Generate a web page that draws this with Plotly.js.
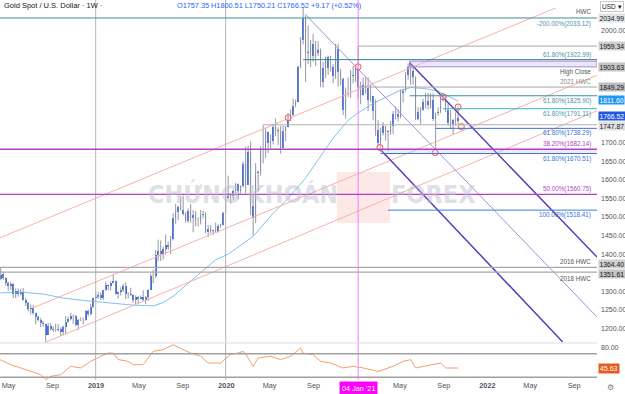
<!DOCTYPE html>
<html><head><meta charset="utf-8">
<script src="https://cdn.plot.ly/plotly-3.0.1.min.js"></script>
<style>html,body{margin:0;padding:0;background:#fff}#chart{width:625px;height:394px}</style>
</head><body><div id="chart"></div>
<script>
// ---------- DATA ----------
const weekStart = '2018-04-09';   // first weekly candle, one candle per week after it
const open = [1332,1346,1336,1323,1315,1319,1292,1302,1294,1298,1278,1270,1252,1256,1241,1231,1223,1214,1212,1184,1206,1200,1196,1195,1200,1192,1203,1218,1227,1235,1233,1209,1222,1223,1222,1248,1238,1257,1281,
1286,1290,1282,1303,1318,1314,1322,1329,1294,1298,1303,1314,1292,1292,1290,1276,1286,1280,1285,1277,1284,1305,1341,1341,1399,1409,1400,1415,1426,1419,1440,1497,1514,1527,1520,1507,1489,1517,1497,1505,1489,1490,1505,1509,1459,1468,1462,1464,1460,1476,1478,1510,
1552,1557,1557,1571,1589,1570,1584,1643,1585,1674,1530,1498,1617,1620,1684,1683,1729,1700,1703,1743,1735,1730,1685,1730,1743,1771,1775,1799,1810,1902,1975,2035,1944,1940,1964,1934,1941,1950,1862,1900,1930,1900,1902,1879,1951,1889,1871,1788,1839,1839,1881,1878,
1898,1850,1828,1856,1848,1814,1824,1784,1734,1700,1727,1745,1732,1728,1744,1777,1777,1768,1832,1838,1881,1903,1892,1877,1764,1781,1787,1808,1812,1802,1814,1763,1780,1781,1818,1827,1787,1754,1750,1761,1757.35];
const high = [1365,1353,1338,1326,1326,1322,1308,1308,1307,1309,1282,1272,1265,1263,1243,1235,1228,1221,1213,1215,1215,1206,1214,1212,1204,1208,1233,1233,1243,1238,1237,1226,1230,1229,1250,1251,1267,1283,1299,
1298,1297,1304,1326,1319,1327,1346,1330,1299,1311,1320,1324,1298,1310,1292,1289,1288,1289,1303,1287,1306,1348,1358,1411,1439,1437,1420,1453,1434,1449,1510,1535,1531,1555,1557,1513,1523,1535,1519,1516,1499,1519,1517,1514,1478,1478,1466,1485,1480,1482,1514,1553,
1611,1563,1575,1592,1590,1585,1649,1689,1692,1703,1560,1645,1625,1690,1747,1739,1730,1722,1750,1765,1741,1745,1745,1745,1779,1789,1818,1815,1907,1984,2075,2040,2015,1976,1992,1973,1973,1953,1917,1931,1933,1933,1911,1965,1966,1898,1875,1848,1875,1896,1906,1900,
1959,1864,1875,1876,1875,1855,1826,1816,1760,1740,1755,1745,1734,1758,1785,1797,1790,1843,1845,1890,1913,1916,1903,1878,1795,1795,1818,1834,1833,1832,1832,1780,1795,1823,1834,1827,1808,1787,1764,1781,1800.51];
const low = [1331,1331,1315,1302,1304,1282,1282,1286,1289,1275,1261,1246,1238,1237,1211,1219,1204,1205,1160,1183,1195,1191,1191,1193,1180,1182,1185,1217,1222,1212,1206,1196,1220,1212,1221,1233,1236,1256,1276,
1280,1277,1276,1302,1303,1302,1321,1291,1281,1289,1298,1280,1281,1288,1270,1266,1266,1278,1274,1266,1274,1305,1322,1336,1381,1382,1385,1400,1411,1400,1437,1481,1492,1518,1504,1485,1484,1485,1459,1475,1474,1480,1496,1456,1446,1456,1452,1459,1458,1471,1477,1508,
1549,1536,1546,1563,1547,1563,1579,1563,1586,1505,1451,1484,1568,1611,1644,1659,1672,1684,1695,1717,1693,1670,1685,1704,1741,1757,1772,1795,1810,1900,1964,1863,1911,1903,1917,1906,1933,1849,1848,1873,1882,1891,1860,1871,1850,1854,1774,1764,1823,1821,1859,1863,
1817,1803,1826,1831,1785,1810,1760,1717,1687,1676,1719,1705,1677,1721,1723,1763,1757,1765,1808,1837,1869,1855,1856,1761,1760,1750,1786,1792,1789,1791,1758,1682,1772,1779,1810,1782,1745,1737,1721,1746,1750.21];
const close = [1345,1336,1323,1315,1320,1292,1301,1294,1298,1278,1270,1252,1256,1241,1231,1223,1214,1212,1184,1206,1200,1196,1195,1200,1192,1203,1218,1227,1235,1233,1209,1222,1223,1222,1248,1238,1257,1281,1286,
1290,1282,1303,1318,1314,1322,1329,1294,1298,1303,1314,1292,1292,1290,1276,1286,1280,1285,1277,1284,1305,1341,1341,1399,1409,1400,1415,1426,1419,1440,1497,1514,1527,1520,1507,1489,1517,1497,1505,1489,1490,1505,1509,1459,1468,1462,1464,1460,1476,1478,1510,1552,
1557,1557,1571,1589,1570,1584,1643,1585,1674,1530,1498,1617,1620,1684,1683,1729,1700,1703,1743,1735,1730,1685,1730,1743,1771,1775,1799,1810,1902,1975,2035,1944,1940,1964,1934,1941,1950,1862,1900,1930,1900,1902,1879,1951,1889,1871,1788,1839,1839,1881,1878,1898,
1849.29,1828,1856,1848,1814,1824,1784,1734,1700,1727,1745,1732,1728,1744,1777,1777,1768,1832,1838,1881,1903.63,1892,1877,1764,1781,1787,1808,1812,1802,1814,1763,1780,1781,1818,1827,1787,1754,1750,1761,1757.35,1766.52];

// moving average
const maDates = ['2018-04-07','2018-06-04','2018-08-06','2018-10-01','2018-12-03','2019-01-14','2019-03-04','2019-04-15','2019-06-10','2019-07-08','2019-08-05','2019-09-02','2019-10-21','2019-12-02','2020-01-06','2020-02-03','2020-03-16','2020-05-11','2020-06-22','2020-08-10','2020-09-21','2020-10-26','2020-12-07','2021-01-04','2021-02-15','2021-03-22','2021-04-26','2021-05-31','2021-07-12','2021-08-16','2021-09-13','2021-10-11'];
const maValues = [1296,1298,1293,1282,1275,1271,1266,1263,1261,1270,1287,1310,1352,1385,1400,1420,1448,1510,1550,1605,1663,1712,1760,1780,1805,1822,1838,1848,1845,1838,1825,1811.60];

// RSI panel
const rsiDates = ['2018-04-07','2018-05-07','2018-06-04','2018-07-02','2018-07-30','2018-08-13','2018-08-27','2018-09-24','2018-10-22','2018-11-19','2018-12-17','2019-01-14','2019-02-04','2019-02-18','2019-03-04','2019-04-01','2019-04-15','2019-05-13','2019-06-10','2019-07-08','2019-08-05','2019-09-02','2019-09-23','2019-10-21','2019-11-11','2019-12-16','2020-01-13','2020-02-03','2020-02-17','2020-02-24','2020-03-16','2020-03-30','2020-05-04','2020-06-01','2020-06-29','2020-07-27','2020-08-03','2020-08-31','2020-09-21','2020-10-19','2020-11-23','2020-12-21','2021-01-18','2021-03-01','2021-03-15','2021-04-12','2021-05-10','2021-05-31','2021-06-14','2021-07-26','2021-08-23','2021-09-06','2021-09-27','2021-10-11'];
const rsiValues = [59.8,51.4,45.8,40,34.5,26,31.7,34.4,48.6,45.8,57,65.6,71,71,60,57,51.4,51.4,74,76.8,85,76.8,71,65.6,54.2,54.2,69,71,74,69.5,48.6,62.7,65.6,59.8,65.6,79.7,71,68.3,57,54.2,45.8,48.6,45.8,40,42.9,48.6,57,59.8,45.8,51.4,54.2,45.8,45.8,45.63];

// horizontal levels
const levelPrices = [2034.99,1959.34,1922.99,1849.29,1825.90,1791.11,1747.87,1738.29,1682.14,1670.51,1560.75,1518.41,1364.40,1351.61];
const levelStarts = ['2018-04-01','2021-01-04','2020-08-03','2021-01-04','2021-05-28','2021-08-30','2020-04-13','2021-08-09','2018-04-01','2021-03-08','2018-04-01','2021-03-29','2018-04-01','2018-04-01'];
const levelNotes = ['HWC','','61.80%(1922.99)','2021 HWC','61.80%(1825.90)','61.80%(1791.11)','','61.80%(1738.29)','38.20%(1682.14)','61.80%(1670.51)','50.00%(1560.75)','100.00%(1518.41)','2016 HWC','2018 HWC'];
const fibExtraNote = '-200.00%(2033.12)';
const highCloseBand = [1903.63, 1919];
const fibBand = [1670.51, 1682.14];

// trendlines: start/end
const trendStartDates = ['2018-04-06','2018-07-07','2018-08-10','2020-08-08','2021-05-29','2021-03-06'];
const trendStartPrices = [1443.5,1255.4,1162,2045.7,1914,1682.8];
const trendEndDates = ['2022-11-04','2022-11-04','2022-11-04','2022-11-04','2022-11-04','2022-07-31'];
const trendEndPrices = [2108,1881,1785.8,1231.2,1392.5,1164];

// touch circles
const circleDates = ['2020-06-22','2021-01-04','2021-03-06','2021-08-08','2021-08-30','2021-10-11','2021-10-20'];
const circlePrices = [1767,1903.6,1686.6,1673,1823,1796,1743];

// axis labels (values hidden under price boxes are left out)
const yTickVals = [1200,1250,1300,1400,1450,1500,1550,1600,1650,1700,2000];
const rsiTickVals = [80];
const xTickVals = ['2018-05-01','2018-09-01','2019-01-01','2019-05-01','2019-09-01','2020-01-01','2020-05-01','2020-09-01','2021-05-01','2021-09-01','2022-01-01','2022-05-01','2022-09-01'];
const xTickText = ['May','Sep','<b>2019</b>','May','Sep','<b>2020</b>','May','Sep','May','Sep','<b>2022</b>','May','Sep'];
const boxPrices = [2034.99,1959.34,1903.63,1849.29,1811.60,1766.52,1747.87,1364.40,1351.61];

// ---------- BUILD ----------
const FONT = 'Liberation Sans, Arial, sans-serif';
function addDays(s, n){const d=new Date(s+'T00:00:00Z');d.setUTCDate(d.getUTCDate()+n);return d.toISOString().slice(0,10);}
const dates = close.map((_, i) => addDays(weekStart, 7*i));
const XR = ['2018-04-07','2022-11-04'];

const wickX = [], wickY = [];
dates.forEach((d,i)=>{wickX.push(d,d,null);wickY.push(low[i],high[i],null);});
const bodyBase = open.map((o,i)=>Math.min(o,close[i]));
const bodyLen = open.map((o,i)=>Math.max(Math.abs(close[i]-o),1));

const traces = [];
traces.push({type:'scatter',mode:'lines',x:maDates,y:maValues,line:{color:'#7dc3f0',width:1},hoverinfo:'skip'});
traces.push({type:'scatter',mode:'lines',x:wickX,y:wickY,line:{color:'#9598a1',width:1},hoverinfo:'skip'});
traces.push({type:'bar',x:dates,base:bodyBase,y:bodyLen,width:4.6*86400000,marker:{color:'#2962ff',line:{width:0}},hoverinfo:'skip'});

const trendColors = ['#f7b0aa','#f7b0aa','#f7b0aa','#a28fdc','#5b3cb8','#5b3cb8'];
const trendWidths = [1,1,1,1,1.5,1.5];
trendStartDates.forEach((d,i)=>{
  traces.push({type:'scatter',mode:'lines',x:[d,trendEndDates[i]],y:[trendStartPrices[i],trendEndPrices[i]],line:{color:trendColors[i],width:trendWidths[i]},hoverinfo:'skip'});
});
traces.push({type:'scatter',mode:'markers',x:circleDates,y:circlePrices,marker:{symbol:'circle',size:6,color:'rgba(255,235,235,0.5)',line:{color:'#ef5350',width:1}},hoverinfo:'skip'});
traces.push({type:'scatter',mode:'lines',x:rsiDates,y:rsiValues,xaxis:'x2',yaxis:'y2',line:{color:'#f5a06c',width:1},hoverinfo:'skip'});

const levelColors = ['#3f8f96','#a8a8a8','#2f8592','#a8a8a8','#3f8f96','#31b7cf','#b0b0b0','#3a6fd8','#b43fc4','#3a6fd8','#b43fc4','#3a7fe0','#a8a8a8','#a8a8a8'];
const levelWidths = [1,1,1,1,1,1,1,1,1.3,1,1.3,1,1.3,1.3];
const noteColors = ['#50535e','','#4f92b0','#8a8a8a','#4f92b0','#4f92b0','','#3a6fd8','#b43fc4','#3a6fd8','#b43fc4','#3a6fd8','#50535e','#50535e'];
const noteShift = [6,0,5,6,-5,-5,0,-5,5,-5,5,-5,6,-6];

const shapes = [];
['2018-12-31','2019-12-30'].forEach(d=>shapes.push({type:'line',xref:'x',yref:'paper',x0:d,x1:d,y0:0,y1:1.022,line:{color:'#b4b4b4',width:1}}));
shapes.push({type:'line',xref:'x',yref:'paper',x0:'2021-01-04',x1:'2021-01-04',y0:0,y1:1.022,line:{color:'#f77ff7',width:1}});
shapes.push({type:'rect',xref:'paper',yref:'paper',x0:337/597,x1:390/597,y0:(380-223)/372,y1:(380-172)/372,fillcolor:'rgba(245,150,150,0.22)',line:{width:0},layer:'below'});
shapes.push({type:'rect',xref:'x',yref:'y',x0:'2021-05-28',x1:XR[1],y0:highCloseBand[0],y1:highCloseBand[1],fillcolor:'rgba(200,185,235,0.35)',line:{color:'#a48ad8',width:1}});
shapes.push({type:'rect',xref:'x',yref:'y',x0:levelStarts[9],x1:XR[1],y0:fibBand[0],y1:fibBand[1],fillcolor:'rgba(200,185,235,0.3)',line:{width:0}});
levelPrices.forEach((p,i)=>shapes.push({type:'line',xref:'x',yref:'y',x0:levelStarts[i],x1:XR[1],y0:p,y1:p,line:{color:levelColors[i],width:levelWidths[i]}}));
[70,30].forEach(v=>shapes.push({type:'line',xref:'paper',yref:'y2',x0:0,x1:1,y0:v,y1:v,line:{color:'#a0a0a0',width:1.5}}));
shapes.push({type:'line',xref:'paper',yref:'paper',x0:0,x1:1,y0:0.0995,y1:0.0995,line:{color:'#dcdfe6',width:1}});

const ann = [];
const hdr = {xref:'paper',yref:'paper',y:1,yshift:3,yanchor:'middle',xanchor:'left',showarrow:false};
ann.push(Object.assign({},hdr,{x:0.004,text:'Gold Spot / U.S. Dollar · 1W ·',font:{family:FONT,size:7.5,color:'#131722'}}));
const n = close.length-1;
const chg = close[n]-close[n-1];
ann.push(Object.assign({},hdr,{x:175/597,text:'O'+open[n].toFixed(2)+' H'+high[n].toFixed(2)+' L'+low[n].toFixed(2)+' C'+close[n].toFixed(2)+' +'+chg.toFixed(2)+' (+'+(chg/close[n-1]*100).toFixed(2)+'%)',font:{family:FONT,size:7.3,color:'#2962ff'}}));
ann.push({xref:'paper',yref:'paper',x:1,xshift:3,y:1,yshift:2,xanchor:'left',yanchor:'middle',showarrow:false,text:'USD ▾',bgcolor:'#ffffff',bordercolor:'#c8c8c8',borderwidth:1,borderpad:1,font:{family:FONT,size:6.5,color:'#131722'}});
const WM = {family:'Liberation Sans Narrow, DejaVu Sans Condensed, Arial Narrow, sans-serif',size:25,color:'rgba(190,194,206,0.5)',weight:700};
ann.push({xref:'paper',yref:'paper',x:243/597,y:(380-194)/372,xanchor:'center',yanchor:'middle',showarrow:false,text:'CHỨNG KHOÁN',font:WM});
ann.push({xref:'paper',yref:'paper',x:433/597,y:(380-194)/372,xanchor:'center',yanchor:'middle',showarrow:false,text:'FOREX',font:WM});
levelNotes.forEach((t,i)=>{ if(!t) return;
  ann.push({xref:'paper',yref:'y',x:593/597,y:levelPrices[i],yshift:noteShift[i],xanchor:'right',yanchor:'middle',showarrow:false,text:t,font:{family:FONT,size:6.3,color:noteColors[i]}});
});
ann.push({xref:'paper',yref:'y',x:593/597,y:levelPrices[0],yshift:-6,xanchor:'right',yanchor:'middle',showarrow:false,text:fibExtraNote,font:{family:FONT,size:6.3,color:'#4f92b0'}});
ann.push({xref:'paper',yref:'y',x:593/597,y:highCloseBand[0],yshift:-5,xanchor:'right',yanchor:'middle',showarrow:false,text:'High Close',font:{family:FONT,size:6.3,color:'#50535e'}});
const boxBg = ['#e4e4e4','#cfcfcf','#c6c6c6','#bdbdbd','#2196f3','#2058e0','#e0e0e0','#cfcfcf','#c6c6c6'];
const boxFg = ['#131722','#131722','#131722','#131722','#ffffff','#ffffff','#131722','#131722','#131722'];
const boxShift = [0,0,0,0,1,1.5,-1.5,3.5,-1.5];
boxPrices.forEach((p,i)=>ann.push({xref:'paper',yref:'y',x:1,xshift:1,y:p,yshift:boxShift[i],xanchor:'left',yanchor:'middle',showarrow:false,text:p.toFixed(2),bgcolor:boxBg[i],borderpad:0.5,font:{family:FONT,size:6.8,color:boxFg[i]}}));
ann.push({xref:'paper',yref:'y2',x:1,xshift:1,y:rsiValues[rsiValues.length-1],xanchor:'left',yanchor:'middle',showarrow:false,text:rsiValues[rsiValues.length-1].toFixed(2),bgcolor:'#e65a1e',borderpad:1,font:{family:FONT,size:7,color:'#ffffff'}});
ann.push({xref:'x',yref:'paper',x:'2021-01-04',y:0,yshift:-1,xanchor:'center',yanchor:'top',showarrow:false,text:"04 Jan '21",bgcolor:'#ff00ff',borderpad:2,font:{family:FONT,size:7.3,color:'#ffffff'}});
ann.push({xref:'paper',yref:'paper',x:1,xshift:13,y:0,yshift:-7,xanchor:'center',yanchor:'middle',showarrow:false,text:'⚙',font:{family:'DejaVu Sans',size:8,color:'#777'}});

const layout = {
  width:625,height:394,margin:{l:0,r:28,t:8,b:14},
  paper_bgcolor:'#ffffff',plot_bgcolor:'#ffffff',showlegend:false,bargap:0,
  xaxis:{type:'date',range:XR,domain:[0,1],anchor:'y',showticklabels:false,showgrid:false,zeroline:false,showline:false,ticks:''},
  yaxis:{domain:[0.0995,1],range:[1161.3,2061.8],side:'right',anchor:'x',tickvals:yTickVals,ticktext:yTickVals.map(v=>v.toFixed(2)),showgrid:false,zeroline:false,showline:false,ticks:'',tickfont:{family:FONT,size:7,color:'#50535e'},ticklabelstandoff:3},
  xaxis2:{type:'date',range:XR,domain:[0,1],anchor:'y2',matches:'x',tickvals:xTickVals,ticktext:xTickText,showgrid:false,zeroline:false,showline:false,ticks:'',tickfont:{family:FONT,size:7.3,color:'#50535e'},ticklabelstandoff:0},
  yaxis2:{domain:[0,0.0968],range:[25.4,86.4],side:'right',anchor:'x2',tickvals:rsiTickVals,ticktext:rsiTickVals.map(v=>v.toFixed(2)),showgrid:false,zeroline:false,showline:false,ticks:'',tickfont:{family:FONT,size:7,color:'#50535e'},ticklabelstandoff:3},
  shapes:shapes,annotations:ann
};
Plotly.newPlot('chart',traces,layout,{displayModeBar:false,staticPlot:true});
</script></body></html>
